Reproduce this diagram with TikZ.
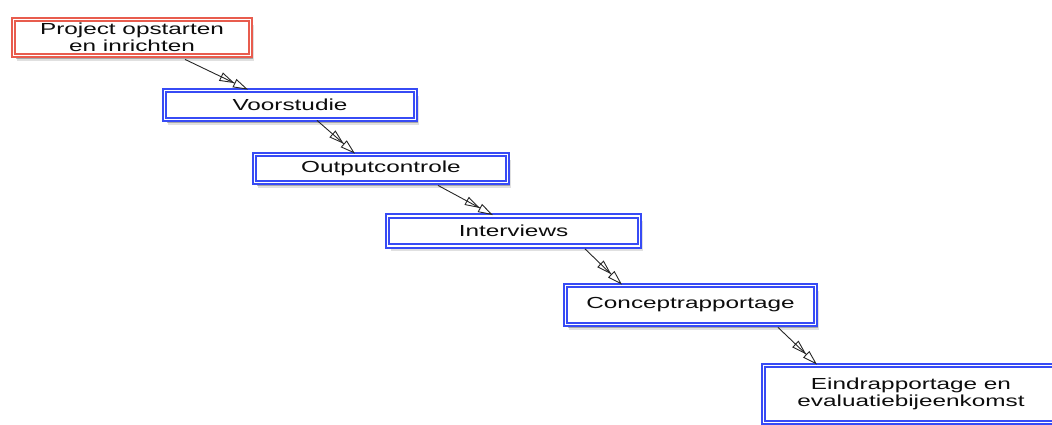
\documentclass[tikz,border=0pt]{standalone}
\usepackage{fontspec}
\setmainfont{Liberation Sans}[FakeStretch=1.52]
\usetikzlibrary{arrows.meta,shadows}
\definecolor{boxblue}{RGB}{55,75,245}
\definecolor{boxred}{RGB}{232,92,78}
\begin{document}
\begin{tikzpicture}[x=1pt,y=-1pt,
  stepbox/.style={draw=boxblue, line width=1.8pt, double=white, double distance=1.8pt,
    fill=white, inner sep=0pt, align=center, font=\fontsize{16}{16.5}\selectfont, text=black!95,
    drop shadow={shadow xshift=3.5pt, shadow yshift=-5pt, opacity=0.12, fill=black},
    drop shadow={shadow xshift=2pt, shadow yshift=-3pt, opacity=0.25, fill=black}},
  startbox/.style={stepbox, draw=boxred},
  flow/.style={draw=black!85, line width=0.9pt,
    -{Triangle[open,length=15pt,width=9pt] Triangle[open,length=15pt,width=9pt]}}]
\useasboundingbox (0,0) rectangle (1052,424);
\clip (0,0) rectangle (1052,424);
\node[startbox, minimum width=237pt, minimum height=36pt] (b1) at (132,37.5) {Project opstarten\\en inrichten};
\node[stepbox, minimum width=251pt, minimum height=29pt] (b2) at (290,105) {Voorstudie};
\node[stepbox, minimum width=253pt, minimum height=28pt] (b3) at (381,168.5) {Outputcontrole};
\node[stepbox, minimum width=252pt, minimum height=30pt] (b4) at (513.5,231) {Interviews};
\node[stepbox, minimum width=250pt, minimum height=39pt] (b5) at (690.5,305) {Conceptrapportage};
\node[stepbox, minimum width=295pt, minimum height=57pt] (b6) at (911,394) {Eindrapportage en\\evaluatiebijeenkomst};
\draw[flow] ([xshift=53pt,yshift=-3pt]b1.south) -- ([xshift=-42pt]b2.north);
\draw[flow] ([xshift=27pt]b2.south) -- ([xshift=-26pt]b3.north);
\draw[flow] ([xshift=57pt,yshift=-2pt]b3.south) -- ([xshift=-20.5pt]b4.north);
\draw[flow] ([xshift=71.5pt,yshift=-2pt]b4.south) -- ([xshift=-68.5pt]b5.north);
\draw[flow] ([xshift=87.5pt,yshift=-2pt]b5.south) -- ([xshift=-94pt]b6.north);
\end{tikzpicture}
\end{document}
